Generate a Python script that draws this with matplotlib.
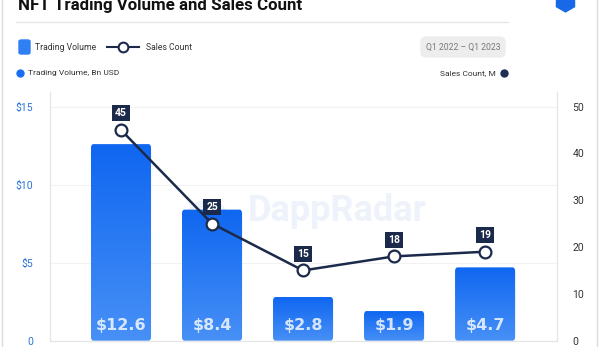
import numpy as np
import matplotlib.pyplot as plt
from matplotlib.patches import FancyBboxPatch, Circle
from matplotlib.lines import Line2D
from matplotlib.colors import LinearSegmentedColormap

quarters = ['Q1 2022', 'Q2 2022', 'Q3 2022', 'Q4 2022', 'Q1 2023']
volume = [12.6, 8.4, 2.8, 1.9, 4.7]          # Bn USD
sales = [45, 25, 15, 18, 19]                 # M
vol_labels = ['$12.6', '$8.4', '$2.8', '$1.9', '$4.7']
left_ticks = [0, 5, 10, 15]
left_ticklabels = ['0', '$5', '$10', '$15']
right_ticks = [0, 10, 20, 30, 40, 50]

W, H = 600, 347
navy = '#1b2a4a'

plt.rcParams['font.family'] = ['Roboto', 'DejaVu Sans']

fig = plt.figure(figsize=(W / 100, H / 100), dpi=100)

def fx(px):
    return px / W

def fy(py):
    return 1 - py / H

# card frame, title, separator
fig.add_artist(Line2D([fx(2), fx(2)], [0, 1], color='#dcdcdc', lw=1))
fig.add_artist(Line2D([fx(597), fx(597)], [0, 1], color='#dcdcdc', lw=1))
fig.text(fx(18), fy(10), 'NFT Trading Volume and Sales Count', fontsize=12.2,
         fontweight='bold', color='#111111', va='baseline', ha='left')
fig.add_artist(Line2D([fx(16), fx(508)], [fy(22), fy(22)], color='#e6e6e6', lw=1))
fig.add_artist(Line2D([fx(565)], [fy(1)], marker='h', markersize=15, color='#1769e8'))

# legend
fig.add_artist(FancyBboxPatch((fx(19), fy(54)), fx(11), 14 / H,
                              boxstyle='round,pad=0,rounding_size=0.004',
                              color='#2f7ff5', transform=fig.transFigure))
fig.text(fx(35), fy(47), 'Trading Volume', fontsize=6.2, color='#333333', va='center')
fig.add_artist(Line2D([fx(107), fx(139)], [fy(47), fy(47)], color=navy, lw=1.5))
fig.add_artist(Line2D([fx(123)], [fy(47)], marker='o', markersize=7, color=navy,
                      markerfacecolor='white', markeredgewidth=1.5))
fig.text(fx(146), fy(47), 'Sales Count', fontsize=6.2, color='#333333', va='center')

# period pill
fig.add_artist(FancyBboxPatch((fx(421), fy(57)), fx(84), 20 / H,
                              boxstyle='round,pad=0,rounding_size=0.012',
                              color='#ededed', transform=fig.transFigure))
fig.text(fx(463), fy(47), 'Q1 2022 \u2013 Q1 2023', fontsize=6.2, color='#777777',
         ha='center', va='center')

# axis captions
fig.add_artist(Line2D([fx(20)], [fy(73)], marker='o', markersize=5, color='#1a6ef3'))
fig.text(fx(28), fy(73), 'Trading Volume, Bn USD', fontsize=6, color='#333333',
         va='center')
fig.text(fx(496), fy(73), 'Sales Count, M', fontsize=6, color='#333333', va='center',
         ha='right')
fig.add_artist(Line2D([fx(504)], [fy(73)], marker='o', markersize=5, color='#1d2e55'))

# axes
ax = fig.add_axes([fx(50), 1 - 340.7 / H, fx(557 - 50), (340.7 - 92) / H])
ax2 = ax.twinx()
ax.set_zorder(1)
ax2.set_zorder(2)
ax.patch.set_visible(False)
ax2.patch.set_visible(False)

x = np.arange(len(quarters))

# watermark
ax.text(0.566, 0.52, 'DappRadar', transform=ax.transAxes, fontsize=26, fontweight='bold',
        color='#eef2fb', ha='center', va='center', zorder=0)
ax.add_patch(Circle((0.31, 0.52), 0.03, transform=ax.transAxes, fill=False,
                    ec='#eef2fb', lw=5, zorder=0))

# gradient bars
grad = np.linspace(0, 1, 256).reshape(-1, 1)
cmap = LinearSegmentedColormap.from_list('bar', ['#4790f6', '#0f66f0'])
bars = ax.bar(x, volume, width=0.66, color='none', zorder=2)
for b, lab in zip(bars, vol_labels):
    bx, bw, bh = b.get_x(), b.get_width(), b.get_height()
    patch = FancyBboxPatch((bx, 0), bw, bh, boxstyle='round,pad=0,rounding_size=0.03',
                           mutation_aspect=8, fc='none', ec='none')
    ax.add_patch(patch)
    im = ax.imshow(grad, cmap=cmap, aspect='auto', extent=(bx, bx + bw, 0, bh),
                   origin='lower', zorder=2)
    im.set_clip_path(patch)
    ax.text(bx + bw / 2, 0.95, lab, ha='center', va='center', fontsize=11.5,
            fontweight='bold', color='white', alpha=0.8, zorder=3,
            family=['DejaVu Sans'])
ax.set_xlim(-0.78, 4.79)
ax.set_ylim(0, 15.94)
ax2.set_ylim(0, 53.1)

# line
ax2.plot(x, sales, color=navy, lw=1.8, marker='o', markersize=8.5,
         markerfacecolor='white', markeredgecolor=navy, markeredgewidth=1.6, zorder=3)
for xi, s in zip(x, sales):
    ax2.annotate(str(s), (xi, s), xytext=(0, 12), textcoords='offset points',
                 ha='center', va='center', fontsize=7.5, fontweight='bold', color='white',
                 bbox=dict(boxstyle='square,pad=0.28', fc=navy, ec='none'))

# ticks, grid, spines
ax.set_xticks([])
ax.set_yticks(left_ticks)
ax.set_yticklabels(left_ticklabels)
ax.tick_params(axis='y', length=0, pad=12, labelsize=7.5, labelcolor='#2a73d6')
ax2.set_yticks(right_ticks)
ax2.tick_params(axis='y', length=0, pad=11, labelsize=7.5, labelcolor='#333333')
ax.grid(axis='y', color='#f2f2f2', lw=0.8, zorder=0)
for a in (ax, ax2):
    a.spines['top'].set_visible(False)
    for s in ('left', 'right', 'bottom'):
        a.spines[s].set_color('#e6e6e6')

fig.savefig('out.png', dpi=100)
